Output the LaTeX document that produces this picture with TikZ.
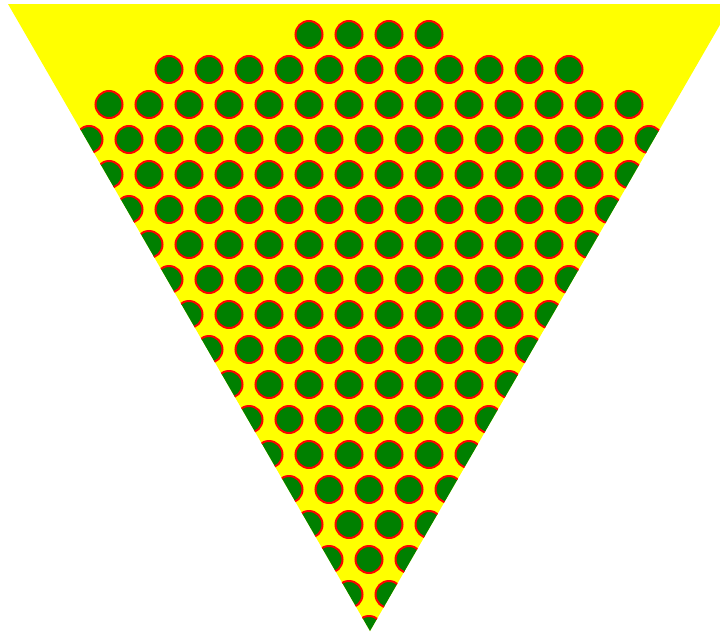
\documentclass[tikz,border=0pt]{standalone}
\definecolor{ylw}{RGB}{255,255,0}
\definecolor{grn}{RGB}{0,128,0}
\definecolor{rd}{RGB}{255,0,0}
\begin{document}
\begin{tikzpicture}[x=1pt,y=-1pt,
  hole/.style={fill=grn,draw=rd,line width=2pt}]
\useasboundingbox[fill=white] (0,0) rectangle (720,632);
\clip (0,0) rectangle (720,632);
\fill[ylw] (8,4) -- (732,4) -- (370,631) -- cycle;
\begin{scope}
\clip (8,4) -- (732,4) -- (370,631) -- cycle;
\foreach \x in {309,349,389,429} \draw[hole] (\x,34.5) circle (13.5pt);
\foreach \k in {-5,...,5} \draw[hole] (369+40*\k,69.5) circle (13.5pt);
\foreach \k in {-7,...,6} \draw[hole] (389+40*\k,104.5) circle (13.5pt);
\foreach \j in {3,...,17} {
  \pgfmathsetmacro\yy{34.5+35*\j}
  \pgfmathsetmacro\off{mod(\j,2)==0 ? 20 : 0}
  \foreach \k in {-10,...,10} \draw[hole] (369+\off+40*\k,\yy) circle (13.5pt);
}
\end{scope}
\end{tikzpicture}
\end{document}
